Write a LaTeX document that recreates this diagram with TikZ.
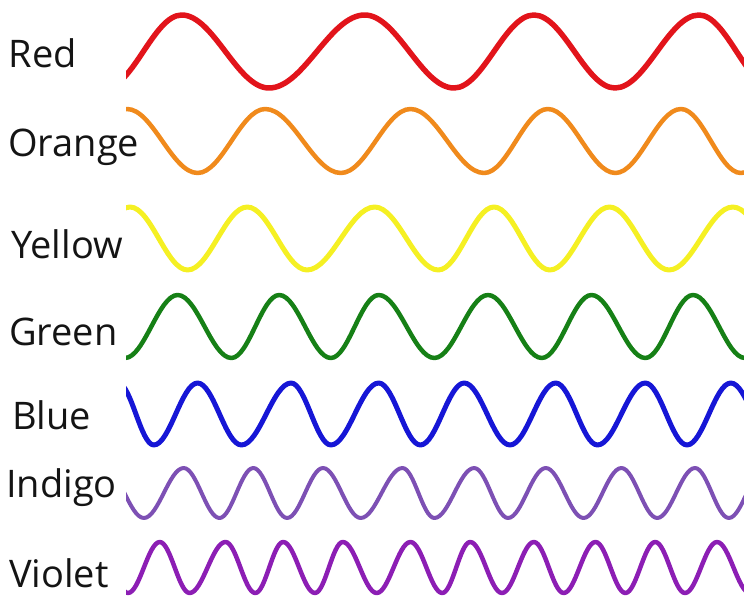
\documentclass[tikz,border=0pt]{standalone}
\usepackage{fontspec}
\setmainfont{Open Sans}
\definecolor{wred}{RGB}{226,20,27}
\definecolor{worange}{RGB}{240,138,28}
\definecolor{wyellow}{RGB}{245,240,35}
\definecolor{wgreen}{RGB}{22,128,22}
\definecolor{wblue}{RGB}{22,22,214}
\definecolor{windigo}{RGB}{125,80,180}
\definecolor{wviolet}{RGB}{140,30,180}
\tikzset{
  lbl/.style={anchor=base west, inner sep=0pt, text=black!92, font=\fontsize{38}{40}\selectfont},
  wv/.style={line join=round},
}
\newcommand\wavedraw[4]{% color, width, start x/y, list
  \draw[wv, color=#1, line width=#2] (#3) foreach \x/\y [remember=\x as \px (initially \wsx), remember=\y as \py (initially \wsy)] in {#4} { .. controls ({\px+0.3634*(\x-\px)},\py) and ({\x-0.3634*(\x-\px)},\y) .. (\x,\y) };
}
\begin{document}
\begin{tikzpicture}[x=1pt,y=-1pt]
\useasboundingbox (0,0) rectangle (744,604);
\node[lbl] (lred) at (8.5,68) {Red};
\node[lbl] (lorange) at (8,157) {Orange};
\node[lbl] (lyellow) at (11,258) {Yellow};
\node[lbl] (lgreen) at (9,345) {Green};
\node[lbl] (lblue) at (12,429) {Blue};
\node[lbl] (lindigo) at (6,497) {Indigo};
\node[lbl] (lviolet) at (9,587) {Violet};
\begin{scope}
\clip (126,0) rectangle (744,604);
\def\wsx{105}\def\wsy{88}
\wavedraw{wred}{5.5}{105,88}{181.7/15,269/88,364.7/15,454/88,533.9/15,615/88,699/15,774/88}
\def\wsx{57}\def\wsy{173}
\wavedraw{worange}{4.5}{57,173}{127/109,197.6/173,265.2/109,340.9/173,410.5/109,484.1/173,547.8/109,615.4/173,681/109,740.8/173,810/109}
\def\wsx{70}\def\wsy{270}
\wavedraw{wyellow}{5}{70,270}{130/207,187.6/270,247.3/207,307/270,374.7/207,438.3/270,494/207,549.8/270,609.5/207,669/270,732.8/207,795/270}
\def\wsx{73}\def\wsy{295}
\wavedraw{wgreen}{4.5}{73,295}{125/358,177.7/295,231.4/358,279.2/295,330.9/358,378.7/295,434.4/358,488/295,541.8/358,591.5/295,645.3/358,693/295,745/358,797/295}
\def\wsx{118}\def\wsy{383}
\wavedraw{wblue}{5}{118,383}{153.8/445,197.6/383,241.4/445,291.1/383,330.9/445,378.7/383,420.4/445,464.2/383,510/445,555.7/383,597.5/445,645.3/383,687/445,730.8/383,775/445}
\def\wsx{105}\def\wsy{468}
\wavedraw{windigo}{4}{105,468}{143.9/518,183.7/468,219.5/518,253.3/468,287.1/518,323/468,360.7/518,402.5/468,434.4/518,474.2/468,508/518,545.8/468,583.6/518,621.4/468,657.2/518,695/468,728.8/518,765/468}
\def\wsx{98}\def\wsy{542}
\wavedraw{wviolet}{4.5}{98,542}{128/593,159.8/542,189.6/593,225.5/542,255.3/593,283.2/542,315/593,342.8/542,376.7/593,410.5/542,442.3/593,470.2/542,502/593,533.9/542,563.7/593,595.5/542,625.4/593,655.2/542,685/593,717/542,750/593}
\end{scope}
\end{tikzpicture}
\end{document}
